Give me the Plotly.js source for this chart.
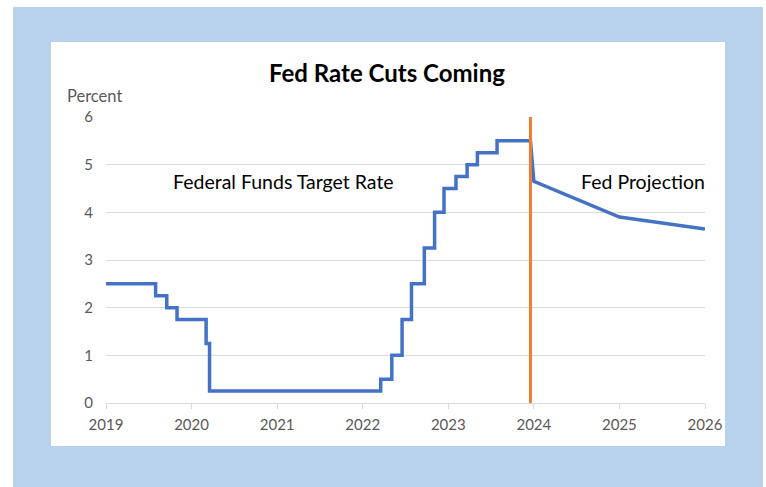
<!DOCTYPE html>
<html>
<head>
<meta charset="utf-8">
<script src="https://cdn.plot.ly/plotly-3.0.1.min.js"></script>
<style>
  html, body { margin: 0; padding: 0; background: #ffffff; }
  #bg { position: absolute; left: 13px; top: 7px; width: 750px; height: 480px; background: #b7d2ea; }
  #chart { position: absolute; left: 51px; top: 42px; width: 674px; height: 404px; background: #ffffff; }
</style>
</head>
<body>
<div id="bg"></div>
<div id="chart"></div>
<script>
// Federal funds target rate (upper bound), decimal years
const rateDates = [2019.0, 2019.58, 2019.71, 2019.83, 2020.17, 2020.21, 2022.21, 2022.34, 2022.46, 2022.57,
                   2022.72, 2022.84, 2022.95, 2023.09, 2023.22, 2023.34, 2023.57, 2023.96];
const rateValues = [2.5, 2.25, 2.0, 1.75, 1.25, 0.25, 0.5, 1.0, 1.75, 2.5,
                    3.25, 4.0, 4.5, 4.75, 5.0, 5.25, 5.5, 5.5];
// Fed projection
const projDates = [2023.96, 2024.0, 2025.0, 2026.0];
const projValues = [5.5, 4.65, 3.9, 3.65];
// Divider
const dividerX = 2023.96;
const dividerY = [0, 6];
const xTicks = [2019, 2020, 2021, 2022, 2023, 2024, 2025, 2026];
const yTicks = [0, 1, 2, 3, 4, 5, 6];

const FONT = 'Lato, "Open Sans", sans-serif';

const traces = [
  { x: rateDates, y: rateValues, type: 'scatter', mode: 'lines',
    line: { color: '#4472c4', width: 3.5, shape: 'hv' }, hoverinfo: 'skip' },
  { x: projDates, y: projValues, type: 'scatter', mode: 'lines',
    line: { color: '#4472c4', width: 3.5 }, hoverinfo: 'skip' },
  { x: [dividerX, dividerX], y: dividerY, type: 'scatter', mode: 'lines',
    line: { color: '#ed7d31', width: 3 }, hoverinfo: 'skip' }
];

const layout = {
  width: 674, height: 404,
  margin: { l: 55, r: 20, t: 75, b: 43 },
  paper_bgcolor: '#ffffff', plot_bgcolor: '#ffffff',
  showlegend: false,
  font: { family: FONT, color: '#595959', size: 15 },
  title: { text: '<b>Fed Rate Cuts Coming</b>', font: { family: FONT, size: 24, color: '#000000' },
           xref: 'container', x: 0.4985, xanchor: 'center', yref: 'container', y: 0.923, yanchor: 'middle' },
  xaxis: { range: [2019, 2026], tickvals: xTicks, ticktext: xTicks.map(String),
           showgrid: false, zeroline: false, showline: true, linecolor: '#d9d9d9', linewidth: 1,
           ticks: 'outside', ticklen: 5, tickcolor: '#d9d9d9', ticklabelstandoff: 3,
           tickfont: { size: 15, color: '#595959' } },
  yaxis: { range: [0, 6], tickvals: yTicks, showgrid: true, gridcolor: '#d9d9d9', gridwidth: 1,
           zeroline: false, showline: false, ticks: '', ticklabelstandoff: 12,
           tickfont: { size: 15, color: '#595959' } },
  annotations: [
    { text: 'Percent', xref: 'paper', yref: 'paper', x: -0.0685, y: 1, yshift: 21, xanchor: 'left', yanchor: 'middle',
      showarrow: false, font: { size: 16.5, color: '#595959' } },
    { text: 'Federal Funds Target Rate', xref: 'x', yref: 'y', x: 2021.08, y: 4.65, xanchor: 'center', yanchor: 'middle',
      showarrow: false, font: { size: 19.5, color: '#000000' } },
    { text: 'Fed Projection', xref: 'x', yref: 'y', x: 2025.28, y: 4.65, xanchor: 'center', yanchor: 'middle',
      showarrow: false, font: { size: 19.5, color: '#000000' } }
  ]
};

Plotly.newPlot('chart', traces, layout, { displayModeBar: false, staticPlot: true });
</script>
</body>
</html>
